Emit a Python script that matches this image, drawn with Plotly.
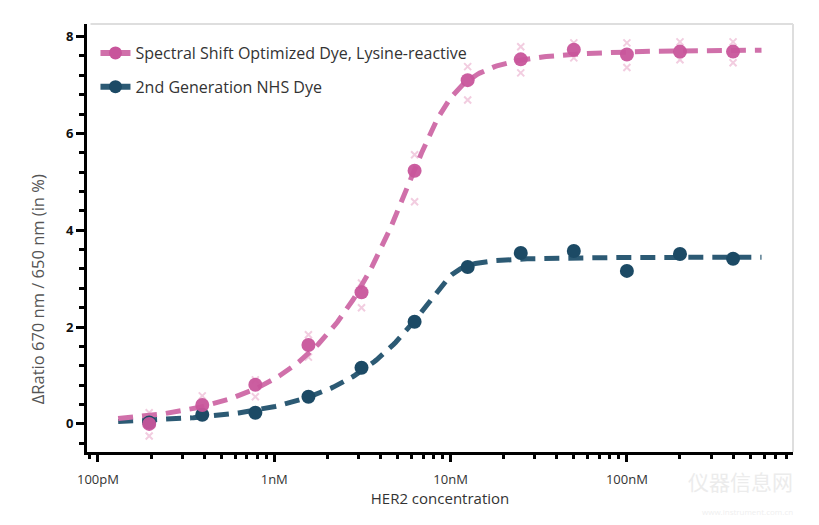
import numpy as np
import plotly.graph_objects as go

# ---------------- data ----------------
conc_nM = [400, 200, 100, 50, 25, 12.5, 6.25, 3.125, 1.5625, 0.78125, 0.390625, 0.1953125]

pink_name = "Spectral Shift Optimized Dye, Lysine-reactive"
pink_mean = [7.69, 7.69, 7.63, 7.73, 7.53, 7.10, 5.23, 2.72, 1.63, 0.81, 0.39, 0.00]
pink_rep_hi = [7.89, 7.89, 7.87, 7.87, 7.79, 7.38, 5.56, 2.91, 1.84, 0.91, 0.58, 0.23]
pink_rep_lo = [7.46, 7.52, 7.36, 7.56, 7.25, 6.69, 4.59, 2.40, 1.38, 0.56, 0.14, -0.25]

blue_name = "2nd Generation NHS Dye"
blue_mean = [3.41, 3.51, 3.16, 3.57, 3.53, 3.24, 2.11, 1.16, 0.56, 0.23, 0.19, 0.03]

x_tickvals = [0.1, 1, 10, 100]
x_ticktext = ["100pM", "1nM", "10nM", "100nM"]
y_tickvals = [0, 2, 4, 6, 8]

# ---------------- binding-curve fit (quadratic Kd model) ----------------
def binding(c, kd, p):
    s = c + p + kd
    return (s - np.sqrt(s * s - 4 * c * p)) / (2 * p)


def fit(c, y):
    c = np.asarray(c, float)
    y = np.asarray(y, float)
    best = None
    for kd in np.logspace(-2, 1.5, 90):
        for p in np.linspace(0.5, 20, 80):
            f = binding(c, kd, p)
            A = np.vstack([1 - f, f]).T
            coef = np.linalg.lstsq(A, y, rcond=None)[0]
            r = float(np.sum((A @ coef - y) ** 2))
            if best is None or r < best[0]:
                best = (r, kd, p, coef)
    return best


c_min, c_max = min(conc_nM) / 1.5, max(conc_nM) * 1.45
c_curve = np.logspace(np.log10(c_min), np.log10(c_max), 300)


def curve(y):
    _, kd, p, coef = fit(conc_nM, y)
    f = binding(c_curve, kd, p)
    return coef[0] * (1 - f) + coef[1] * f


pink_fit = curve(pink_mean)
blue_fit = curve(blue_mean)

# ---------------- styling ----------------
PINK = "#C8559B"
PINK_LINE = "#D070AA"
PINK_REP = "#F2CDE0"
BLUE = "#1C4A65"
BLUE_LINE = "#2C5A74"
FONT = "Open Sans"

fig = go.Figure()

# replicate crosses
fig.add_trace(go.Scatter(
    x=conc_nM + conc_nM, y=pink_rep_hi + pink_rep_lo, mode="markers",
    marker=dict(symbol="x-thin", size=7, line=dict(width=2, color=PINK_REP)),
    showlegend=False, hoverinfo="skip"))

# fitted curves
fig.add_trace(go.Scatter(
    x=c_curve, y=blue_fit, mode="lines",
    line=dict(color=BLUE_LINE, width=5, dash="15px,9px"),
    showlegend=False, hoverinfo="skip"))
fig.add_trace(go.Scatter(
    x=c_curve, y=pink_fit, mode="lines",
    line=dict(color=PINK_LINE, width=5, dash="15px,9px"),
    showlegend=False, hoverinfo="skip"))

# mean points
fig.add_trace(go.Scatter(
    x=conc_nM, y=blue_mean, mode="markers",
    marker=dict(color=BLUE, size=14), showlegend=False))
fig.add_trace(go.Scatter(
    x=conc_nM, y=pink_mean, mode="markers",
    marker=dict(color=PINK, size=14, opacity=0.95), showlegend=False))

# legend entries
fig.add_trace(go.Scatter(
    x=[None], y=[None], mode="lines+markers", name=pink_name, legendgroup="a",
    line=dict(color=PINK_LINE, width=6), marker=dict(color=PINK, size=13)))
fig.add_trace(go.Scatter(
    x=[None], y=[None], mode="lines+markers", name=blue_name, legendgroup="b",
    line=dict(color=BLUE_LINE, width=6), marker=dict(color=BLUE, size=13)))

fig.update_layout(
    width=819, height=525,
    margin=dict(l=79, r=34, t=16, b=81),
    paper_bgcolor="white", plot_bgcolor="white",
    font=dict(family=FONT, color="#333333"),
    showlegend=True,
    legend=dict(x=0.012, y=0.972, xanchor="left", yanchor="top",
                font=dict(size=16, color="#333333", family=FONT),
                bgcolor="rgba(0,0,0,0)", tracegroupgap=10, itemwidth=30),
    shapes=[
        dict(type="line", xref="paper", yref="paper", x0=0.005, x1=1, y0=1, y1=1,
             line=dict(color="#DEDEDE", width=2)),
        dict(type="line", xref="paper", yref="paper", x0=1, x1=1, y0=0, y1=1,
             line=dict(color="#DEDEDE", width=2)),
    ],
    annotations=[
        dict(text="ΔRatio 670 nm / 650 nm (in %)", xref="paper", yref="paper",
             x=-0.069, y=0.381, xanchor="center", yanchor="middle",
             textangle=-90, showarrow=False,
             font=dict(size=16.5, color="#555555", family=FONT)),
        dict(text="仪器信息网", xref="paper", yref="paper", x=1.003, y=-0.068,
             showarrow=False, xanchor="right", yanchor="middle",
             font=dict(size=21, color="#ECECEC", family="Noto Sans CJK SC")),
        dict(text="www.instrument.com.cn", xref="paper", yref="paper", x=1.003, y=-0.14,
             showarrow=False, xanchor="right", yanchor="middle",
             font=dict(size=8, color="#EFEFEF", family=FONT)),
    ],
)

fig.update_xaxes(
    type="log", range=[-1.062, 2.942],
    showline=True, linecolor="black", linewidth=3,
    showgrid=False, zeroline=False,
    tickmode="array", tickvals=x_tickvals, ticktext=x_ticktext,
    ticks="outside", ticklen=7, tickwidth=3, tickcolor="black",
    tickfont=dict(size=13, color="#333333", family=FONT),
    ticklabelstandoff=6,
    minor=dict(tickvals=[v * m for v in [0.01, 0.1, 1, 10, 100] for m in range(2, 10)],
               ticks="outside", ticklen=4, tickwidth=3, tickcolor="black", showgrid=False),
    title=dict(text="HER2 concentration", font=dict(size=15, color="#333333", family=FONT),
               standoff=5),
)

fig.update_yaxes(
    range=[-0.58, 8.26],
    showline=True, linecolor="black", linewidth=3,
    showgrid=False, zeroline=False,
    tickmode="array", tickvals=y_tickvals,
    ticks="outside", ticklen=8, tickwidth=3, tickcolor="black",
    tickfont=dict(size=13, color="#111111", family=FONT, weight="bold"),
    minor=dict(tickvals=[-0.4, 0.4, 0.8, 1.2, 1.6, 2.4, 2.8, 3.2, 3.6, 4.4, 4.8, 5.2, 5.6,
                         6.4, 6.8, 7.2, 7.6],
               ticks="outside", ticklen=5, tickwidth=3, tickcolor="black", showgrid=False),
)

fig.write_html("out.html")
